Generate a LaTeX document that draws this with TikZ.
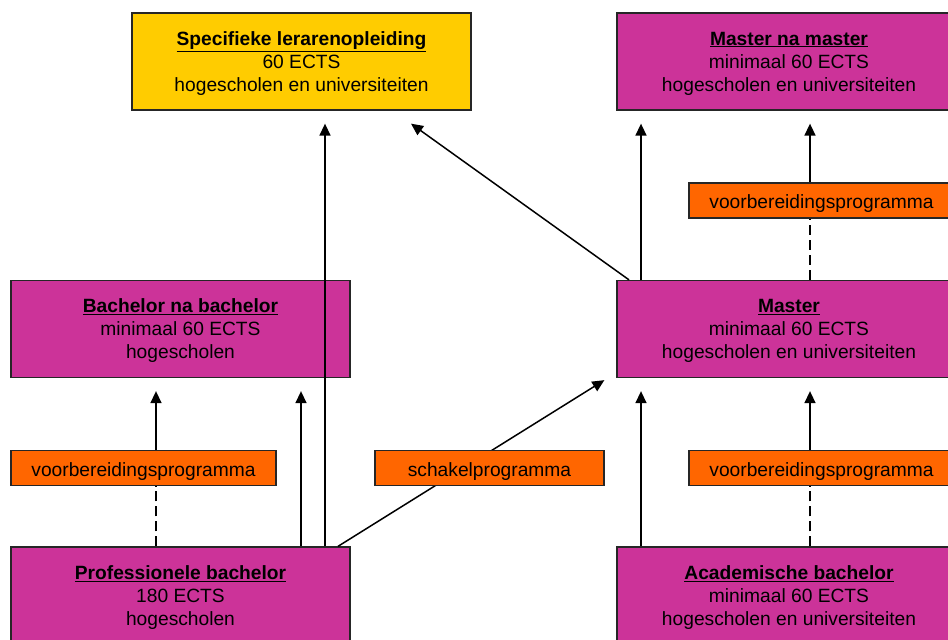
\documentclass[tikz,border=0pt]{standalone}
\usepackage{fontspec}
\setmainfont{Liberation Sans}
\usetikzlibrary{arrows.meta}
\definecolor{geel}{HTML}{FFCC00}
\definecolor{paars}{HTML}{CC3399}
\definecolor{oranje}{HTML}{FF6600}
\tikzset{
  opl/.style={draw=black!85,line width=1.3pt,fill=paars,align=center,inner sep=0pt,text depth=0pt,
    minimum width=339pt,minimum height=97pt,font=\fontsize{19.2}{23}\selectfont},
  prog/.style={draw=black!85,line width=1.3pt,fill=oranje,inner sep=0pt,text height=16pt,text depth=0pt,
    minimum width=265pt,minimum height=35pt,font=\fontsize{19.2}{23}\selectfont},
  pijl/.style={line width=1.5pt,-{Triangle[length=12pt,width=11pt]}},
  stip/.style={line width=1.5pt,dash pattern=on 10pt off 5pt}
}
\newcommand{\titel}[1]{\underline{\textbf{#1}}}
\begin{document}
\begin{tikzpicture}[x=1pt,y=-1pt]
\useasboundingbox (0,0) rectangle (948,640);
\clip (0,0) rectangle (948,640);
% opleidingen
\node[opl,fill=geel] (spec) at (301.5,61.5) {\titel{Specifieke lerarenopleiding}\\60 ECTS\\hogescholen en universiteiten};
\node[opl,minimum width=344pt] (mnm) at (789,61.5) {\titel{Master na master}\\minimaal 60 ECTS\\hogescholen en universiteiten};
\node[prog] (vbm) at (821.5,200.5) {voorbereidingsprogramma};
\node[opl] (bnb) at (180.5,329) {\titel{Bachelor na bachelor}\\minimaal 60 ECTS\\hogescholen};
\node[opl,minimum width=344pt] (master) at (789,329) {\titel{Master}\\minimaal 60 ECTS\\hogescholen en universiteiten};
\node[prog] (vbl) at (143.5,468) {voorbereidingsprogramma};
\node[prog] (vbr) at (821.5,468) {voorbereidingsprogramma};
\node[opl] (pb) at (180.5,595.5) {\titel{Professionele bachelor}\\180 ECTS\\hogescholen};
\node[opl,minimum width=344pt] (ab) at (789,595.5) {\titel{Academische bachelor}\\minimaal 60 ECTS\\hogescholen en universiteiten};
% doorstroom
\draw[pijl] (pb.north -| 325,0) -- ([yshift=-13pt]spec.south -| 325,0);
\draw[pijl] (pb.north -| 301,0) -- ([yshift=-13pt]bnb.south -| 301,0);
\draw[stip] (pb.north -| 156,0) -- (vbl.south -| 156,0);
\draw[pijl] (vbl.north -| 156,0) -- ([yshift=-13pt]bnb.south -| 156,0);
\draw[pijl] (pb.north -| 338,0) -- ([shift={(-12pt,-2pt)}]master.south west);
\draw[pijl] (master.north -| 629,0) -- ([yshift=-13pt]spec.south -| 411,0);
\draw[pijl] (master.north -| 641,0) -- ([yshift=-13pt]mnm.south -| 641,0);
\draw[stip] (master.north -| 810,0) -- (vbm.south -| 810,0);
\draw[pijl] (vbm.north -| 810,0) -- ([yshift=-13pt]mnm.south -| 810,0);
\draw[pijl] (ab.north -| 641,0) -- ([yshift=-13pt]master.south -| 641,0);
\draw[stip] (ab.north -| 810,0) -- (vbr.south -| 810,0);
\draw[pijl] (vbr.north -| 810,0) -- ([yshift=-13pt]master.south -| 810,0);
\node[prog,minimum width=229pt] (schakel) at (489.5,468) {schakelprogramma};
\end{tikzpicture}
\end{document}
